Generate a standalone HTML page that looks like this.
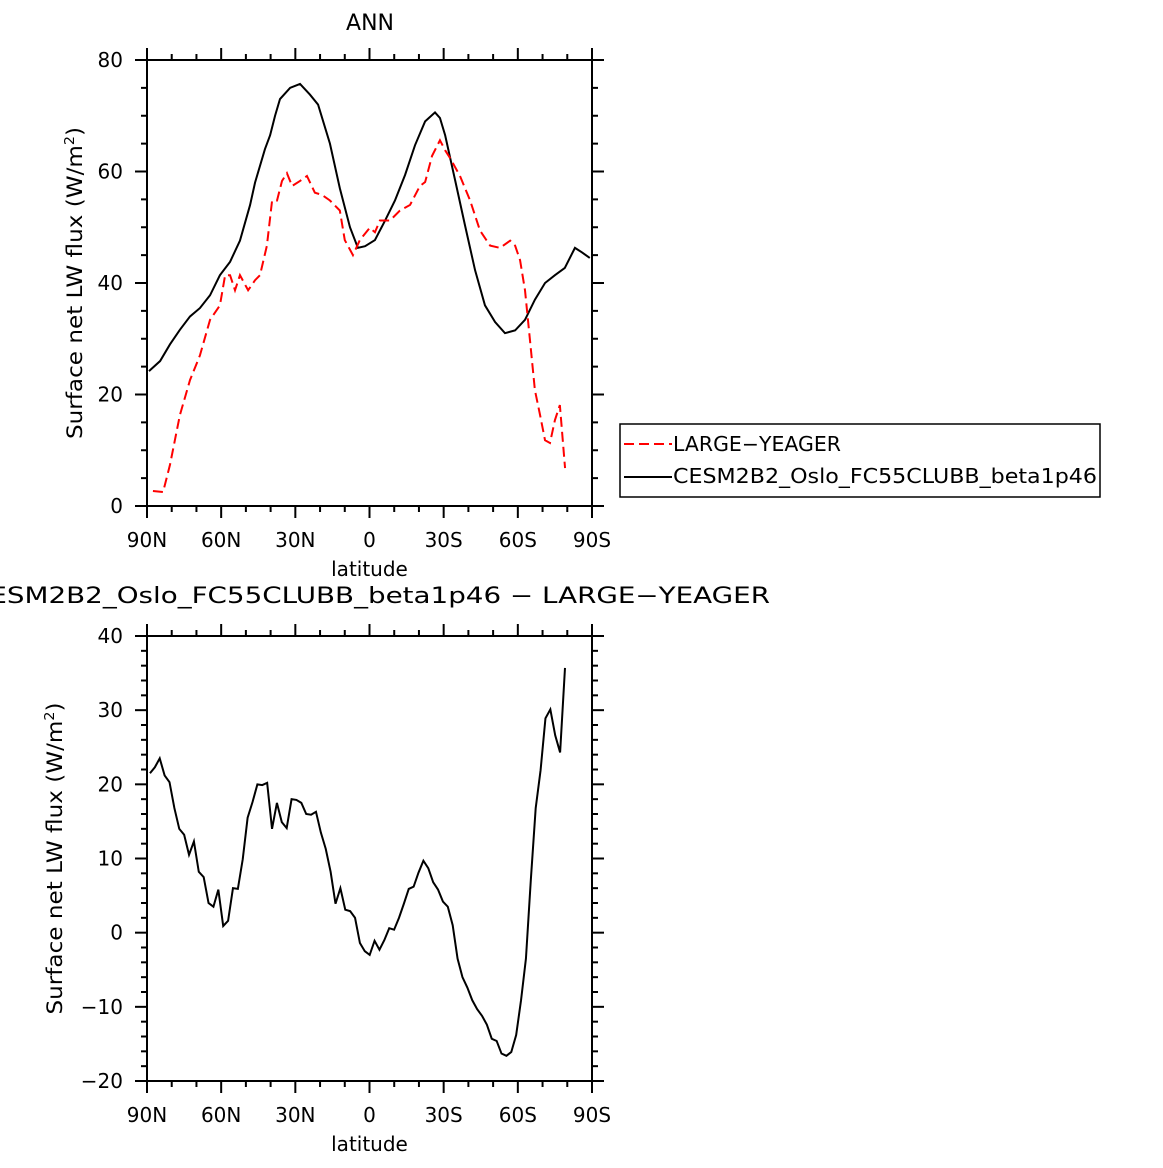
<!DOCTYPE html>
<html><head><meta charset="utf-8"><style>
body{margin:0;background:#fff;}
svg text{font-family:"DejaVu Sans","Liberation Sans",sans-serif;fill:#000;}
</style></head><body>
<svg id="c" width="1163" height="1163" viewBox="0 0 1163 1163" xmlns="http://www.w3.org/2000/svg"></svg>
<script>
const xTickLabels=["90N","60N","30N","0","30S","60S","90S"];
const xTickVals=[90,60,30,0,-30,-60,-90];
const topYTicks=[0,20,40,60,80];
const botYTicks=[-20,-10,0,10,20,30,40];
const cesmLat=[89.2,84.7,80.7,76.7,72.6,68.6,64.5,60.5,56.4,52.4,48.3,46.3,42.3,40.2,38.2,36.2,32.1,28.1,24.1,20.8,16,12,7.9,4.7,1.8,-2.2,-6.3,-10.3,-14.4,-18.4,-22.5,-26.5,-28.5,-30.6,-34.6,-38.6,-42.7,-46.7,-50.8,-54.8,-58.9,-62.9,-66.9,-71,-75,-79,-83.1,-85.9,-89.1];
const cesmVal=[24.2,26,29,31.6,34,35.5,37.8,41.4,43.8,47.6,54,58,64,66.5,70,73,75,75.7,73.8,72,65,57,50,46.3,46.6,47.7,51.2,54.8,59.4,64.7,69,70.6,69.6,66.5,58.5,50.4,42.3,36,33,31,31.5,33.4,37,40,41.4,42.7,46.3,45.5,44.5];
const obsLat=[87.6,83.5,80.7,76.7,72.6,68.6,64.5,60.5,58.4,56.4,54.4,52.4,49.1,46.3,44.3,41.5,39.4,37.4,35.4,33.4,31.3,28.1,25.3,22.1,19.2,16,12,10,6.7,3.9,-0.1,-2.2,-4.2,-8.3,-12.3,-16.4,-20.4,-22.5,-25.3,-28.5,-30.6,-32.6,-36.6,-40.7,-44.7,-48.8,-52.8,-56.9,-58.9,-60.9,-62.9,-64.9,-66.9,-69,-71,-73,-75,-77,-79.1];
const obsVal=[2.7,2.5,7.4,16.3,22.6,27,33.4,36,41.4,41.4,38.7,41.4,38.7,40.5,41.4,46.7,54.8,54.8,58.3,59.7,57.4,58.3,59.2,56.2,55.8,54.8,53,47.7,45,47.7,49.9,49.1,51.2,51.2,53,54,57.4,58.1,62.8,65.6,63.8,62.4,59.2,54.8,49.4,46.7,46.3,47.6,46.7,44.1,38.7,29.8,20.8,16.3,11.8,11.3,15.4,18.1,6.8];
const diffStartLat=88.8, diffStep=1.975;
const diffVal=[21.5,22.3,23.5,21.2,20.3,16.8,14,13.2,10.5,12.3,8.2,7.5,4,3.5,5.8,0.9,1.6,6,5.9,9.9,15.5,17.6,20,19.9,20.2,14,17.5,14.9,14.1,18,17.9,17.5,16,15.9,16.3,13.5,11.3,8.2,3.9,6,3.1,2.9,2,-1.4,-2.5,-3,-1.1,-2.3,-1,0.6,0.4,2,3.9,5.9,6.2,8.1,9.7,8.7,6.8,5.8,4.2,3.5,1,-3.5,-6,-7.4,-9.1,-10.3,-11.2,-12.4,-14.3,-14.6,-16.3,-16.6,-16.1,-13.8,-9.1,-3.5,7.1,16.8,21.9,28.9,30.1,26.6,24.3,35.7];

const svg=document.getElementById('c');
const NS='http://www.w3.org/2000/svg';
function mk(tag,attrs,parent){const e=document.createElementNS(NS,tag);for(const k in attrs)e.setAttribute(k,attrs[k]);(parent||svg).appendChild(e);return e;}
function txt(s,x,y,size,anchor,parent){const t=mk('text',{x:x,y:y,'font-size':size,'text-anchor':anchor||'middle'},parent);t.textContent=s;return t;}

const L=147,R=592;
function xs(lat){return L+(90-lat)/180*(R-L);}

function panel(name,top,bot,ymin,ymax,yticks,yminor,ytitle){
  const g=mk('g',{});
  
  
  const ys=v=>bot-(v-ymin)/(ymax-ymin)*(bot-top);
  const fr=mk('rect',{x:L,y:top,width:R-L,height:bot-top,fill:'none',stroke:'#000','stroke-width':2},g);
  
  
  const ax=mk('g',{stroke:'#000','stroke-width':2},g);
  
  
  for(let lat=90;lat>=-90;lat-=10){
    const x=xs(lat), maj=(lat%30===0), len=maj?12:6;
    mk('line',{x1:x,y1:top,x2:x,y2:top-len},ax);
    mk('line',{x1:x,y1:bot,x2:x,y2:bot+len},ax);
  }
  for(let v=ymin;v<=ymax+1e-9;v+=yminor){
    const y=ys(v), maj=yticks.some(t=>Math.abs(t-v)<1e-6), len=maj?12:6;
    mk('line',{x1:L,y1:y,x2:L-len,y2:y},ax);
    mk('line',{x1:R,y1:y,x2:R+len,y2:y},ax);
  }
  xTickLabels.forEach((s,i)=>{const t=txt(s,xs(xTickVals[i]),bot+41,20,'middle',g);
    
    });
  yticks.forEach(v=>{const t=txt(String(v).replace('-','\u2212'),L-24,ys(v)+7,20,'end',g);
    
    });
  const xt=txt('latitude',(L+R)/2,bot+70,20,'middle',g);
  
  
  const cy=(top+bot)/2, cx=ytitle;
  const yt=mk('text',{x:cx,y:cy,'font-size':21,'text-anchor':'middle',textLength:312,lengthAdjust:'spacingAndGlyphs',transform:`rotate(-90 ${cx} ${cy})`},g);
  
  
  yt.innerHTML='Surface net LW flux (W/m<tspan dy="-8" font-size="13">2</tspan><tspan dy="8">)</tspan>';
  return {g,ys};
}

// top panel
const t=panel('top-panel',60,506,0,80,topYTicks,5,82);
const title=txt('ANN',370,30,22,'middle');


const p1=mk('polyline',{fill:'none',stroke:'#000','stroke-width':2,points:cesmLat.map((a,i)=>xs(a)+','+t.ys(cesmVal[i])).join(' ')},t.g);


const p2=mk('polyline',{fill:'none',stroke:'#f00','stroke-width':2,'stroke-dasharray':'10,5',points:obsLat.map((a,i)=>xs(a)+','+t.ys(obsVal[i])).join(' ')},t.g);



// legend
const lg=mk('g',{});


mk('rect',{x:620,y:424,width:480,height:73,fill:'#fff',stroke:'#000','stroke-width':1.5},lg);
mk('line',{x1:624,y1:444,x2:672,y2:444,stroke:'#f00','stroke-width':2,'stroke-dasharray':'10,5'},lg);
mk('line',{x1:624,y1:477,x2:672,y2:477,stroke:'#000','stroke-width':2},lg);
const le1=txt('LARGE\u2212YEAGER',673,451,20,'start',lg);
le1.setAttribute('textLength','168');
le1.setAttribute('lengthAdjust','spacingAndGlyphs');


const le2=txt('CESM2B2_Oslo_FC55CLUBB_beta1p46',673,483,20,'start',lg);
le2.setAttribute('textLength','424');
le2.setAttribute('lengthAdjust','spacingAndGlyphs');



// bottom panel
const b=panel('bottom-panel',636,1081,-20,40,botYTicks,2,62);
const bt=txt('CESM2B2_Oslo_FC55CLUBB_beta1p46 \u2212 LARGE\u2212YEAGER',370,603,22,'middle');
bt.setAttribute('textLength','800');
bt.setAttribute('lengthAdjust','spacingAndGlyphs');


const p3=mk('polyline',{fill:'none',stroke:'#000','stroke-width':2,points:diffVal.map((v,i)=>xs(diffStartLat-i*diffStep)+','+b.ys(v)).join(' ')},b.g);


</script>
</body></html>
